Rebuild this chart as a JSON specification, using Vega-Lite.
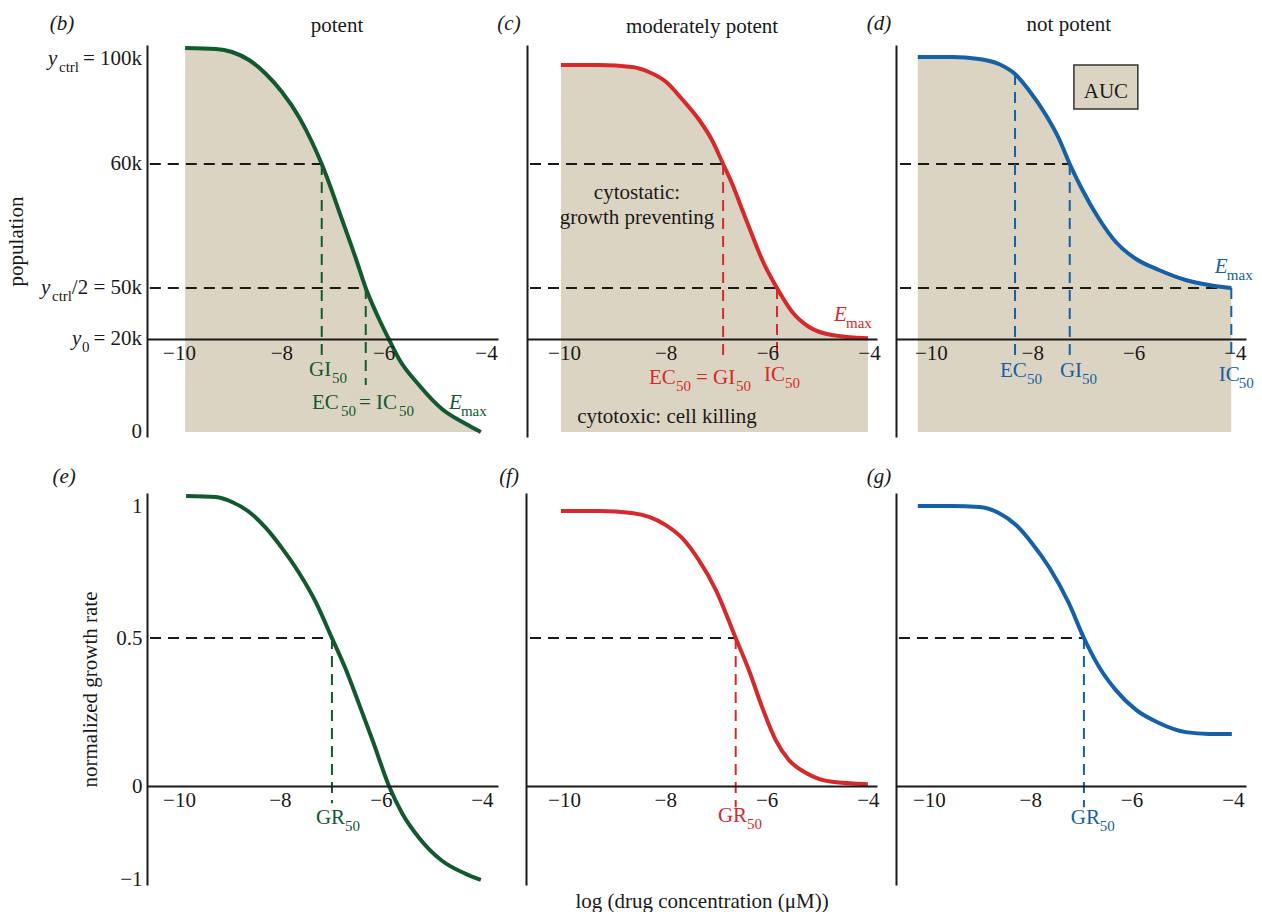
{
 "$schema": "https://vega.github.io/schema/vega-lite/v6.json",
 "background": "white",
 "padding": {"left": 5, "top": 12, "right": 5, "bottom": 5},
 "config": {
  "view": {"stroke": null},
  "font": "Liberation Serif",
  "text": {"font": "Liberation Serif", "fontSize": 21, "baseline": "middle"},
  "axis": {"domainColor": "#1a1a1a", "domainWidth": 2, "ticks": false, "tickSize": 0, "grid": false, "labelFont": "Liberation Serif", "labelFontSize": 21, "labelColor": "#1a1a1a", "labelPadding": 3, "titleFont": "Liberation Serif", "titleFontSize": 21, "titleFontWeight": "normal", "titleColor": "#1a1a1a"}
 },
 "datasets": {
  "curves": [
   {"panel":"b","series":"potent","logc":-9.88,"value":104190},
   {"panel":"b","series":"potent","logc":-9.277,"value":103810},
   {"panel":"b","series":"potent","logc":-8.964,"value":102667},
   {"panel":"b","series":"potent","logc":-8.632,"value":99619},
   {"panel":"b","series":"potent","logc":-8.30,"value":94286},
   {"panel":"b","series":"potent","logc":-7.987,"value":87429},
   {"panel":"b","series":"potent","logc":-7.655,"value":77905},
   {"panel":"b","series":"potent","logc":-7.401,"value":68381},
   {"panel":"b","series":"potent","logc":-7.21,"value":60000},
   {"panel":"b","series":"potent","logc":-6.81,"value":55484},
   {"panel":"b","series":"potent","logc":-6.54,"value":52339},
   {"panel":"b","series":"potent","logc":-6.35,"value":50000},
   {"panel":"b","series":"potent","logc":-6.09,"value":31765},
   {"panel":"b","series":"potent","logc":-5.90,"value":20000},
   {"panel":"b","series":"potent","logc":-5.70,"value":15699},
   {"panel":"b","series":"potent","logc":-5.31,"value":10108},
   {"panel":"b","series":"potent","logc":-4.86,"value":4946},
   {"panel":"b","series":"potent","logc":-4.39,"value":1720},
   {"panel":"b","series":"potent","logc":-4.10,"value":0},
   {"panel":"c","series":"moderately potent","logc":-10.06,"value":97714},
   {"panel":"c","series":"moderately potent","logc":-9.31,"value":97714},
   {"panel":"c","series":"moderately potent","logc":-8.66,"value":96952},
   {"panel":"c","series":"moderately potent","logc":-8.33,"value":95048},
   {"panel":"c","series":"moderately potent","logc":-7.99,"value":91238},
   {"panel":"c","series":"moderately potent","logc":-7.68,"value":84762},
   {"panel":"c","series":"moderately potent","logc":-7.34,"value":76762},
   {"panel":"c","series":"moderately potent","logc":-7.09,"value":69143},
   {"panel":"c","series":"moderately potent","logc":-6.87,"value":60000},
   {"panel":"c","series":"moderately potent","logc":-6.69,"value":58387},
   {"panel":"c","series":"moderately potent","logc":-6.50,"value":56371},
   {"panel":"c","series":"moderately potent","logc":-6.30,"value":54274},
   {"panel":"c","series":"moderately potent","logc":-6.10,"value":52258},
   {"panel":"c","series":"moderately potent","logc":-5.81,"value":50000},
   {"panel":"c","series":"moderately potent","logc":-5.51,"value":35882},
   {"panel":"c","series":"moderately potent","logc":-5.18,"value":27059},
   {"panel":"c","series":"moderately potent","logc":-4.73,"value":22353},
   {"panel":"c","series":"moderately potent","logc":-4.02,"value":20400},
   {"panel":"d","series":"not potent","logc":-10.26,"value":100762},
   {"panel":"d","series":"not potent","logc":-9.59,"value":100762},
   {"panel":"d","series":"not potent","logc":-9.05,"value":100000},
   {"panel":"d","series":"not potent","logc":-8.66,"value":98095},
   {"panel":"d","series":"not potent","logc":-8.34,"value":94286},
   {"panel":"d","series":"not potent","logc":-8.07,"value":88190},
   {"panel":"d","series":"not potent","logc":-7.73,"value":78667},
   {"panel":"d","series":"not potent","logc":-7.47,"value":69524},
   {"panel":"d","series":"not potent","logc":-7.26,"value":60000},
   {"panel":"d","series":"not potent","logc":-7.02,"value":57984},
   {"panel":"d","series":"not potent","logc":-6.68,"value":55565},
   {"panel":"d","series":"not potent","logc":-6.35,"value":53710},
   {"panel":"d","series":"not potent","logc":-5.95,"value":52339},
   {"panel":"d","series":"not potent","logc":-5.50,"value":51452},
   {"panel":"d","series":"not potent","logc":-4.97,"value":50645},
   {"panel":"d","series":"not potent","logc":-4.51,"value":50242},
   {"panel":"d","series":"not potent","logc":-4.07,"value":50000},
   {"panel":"e","series":"potent","logc":-9.86,"value":1.042},
   {"panel":"e","series":"potent","logc":-9.27,"value":1.038},
   {"panel":"e","series":"potent","logc":-8.95,"value":1.019},
   {"panel":"e","series":"potent","logc":-8.61,"value":0.981},
   {"panel":"e","series":"potent","logc":-8.28,"value":0.920},
   {"panel":"e","series":"potent","logc":-7.96,"value":0.843},
   {"panel":"e","series":"potent","logc":-7.62,"value":0.748},
   {"panel":"e","series":"potent","logc":-7.29,"value":0.637},
   {"panel":"e","series":"potent","logc":-6.97,"value":0.5},
   {"panel":"e","series":"potent","logc":-6.69,"value":0.392},
   {"panel":"e","series":"potent","logc":-6.44,"value":0.280},
   {"panel":"e","series":"potent","logc":-6.16,"value":0.152},
   {"panel":"e","series":"potent","logc":-5.84,"value":0},
   {"panel":"e","series":"potent","logc":-5.58,"value":-0.290},
   {"panel":"e","series":"potent","logc":-5.25,"value":-0.548},
   {"panel":"e","series":"potent","logc":-4.79,"value":-0.796},
   {"panel":"e","series":"potent","logc":-4.32,"value":-0.935},
   {"panel":"e","series":"potent","logc":-4.02,"value":-1.0},
   {"panel":"f","series":"moderately potent","logc":-10.06,"value":0.985},
   {"panel":"f","series":"moderately potent","logc":-9.31,"value":0.985},
   {"panel":"f","series":"moderately potent","logc":-8.66,"value":0.977},
   {"panel":"f","series":"moderately potent","logc":-8.32,"value":0.962},
   {"panel":"f","series":"moderately potent","logc":-7.99,"value":0.931},
   {"panel":"f","series":"moderately potent","logc":-7.67,"value":0.882},
   {"panel":"f","series":"moderately potent","logc":-7.34,"value":0.798},
   {"panel":"f","series":"moderately potent","logc":-7.00,"value":0.683},
   {"panel":"f","series":"moderately potent","logc":-6.61,"value":0.5},
   {"panel":"f","series":"moderately potent","logc":-6.35,"value":0.392},
   {"panel":"f","series":"moderately potent","logc":-6.09,"value":0.267},
   {"panel":"f","series":"moderately potent","logc":-5.82,"value":0.155},
   {"panel":"f","series":"moderately potent","logc":-5.56,"value":0.088},
   {"panel":"f","series":"moderately potent","logc":-5.22,"value":0.044},
   {"panel":"f","series":"moderately potent","logc":-4.71,"value":0.014},
   {"panel":"f","series":"moderately potent","logc":-4.00,"value":0.006},
   {"panel":"g","series":"not potent","logc":-10.22,"value":1.004},
   {"panel":"g","series":"not potent","logc":-9.55,"value":1.004},
   {"panel":"g","series":"not potent","logc":-9.01,"value":1.0},
   {"panel":"g","series":"not potent","logc":-8.62,"value":0.977},
   {"panel":"g","series":"not potent","logc":-8.28,"value":0.931},
   {"panel":"g","series":"not potent","logc":-7.97,"value":0.863},
   {"panel":"g","series":"not potent","logc":-7.63,"value":0.771},
   {"panel":"g","series":"not potent","logc":-7.24,"value":0.634},
   {"panel":"g","series":"not potent","logc":-6.94,"value":0.5},
   {"panel":"g","series":"not potent","logc":-6.64,"value":0.402},
   {"panel":"g","series":"not potent","logc":-6.31,"value":0.324},
   {"panel":"g","series":"not potent","logc":-5.91,"value":0.257},
   {"panel":"g","series":"not potent","logc":-5.46,"value":0.213},
   {"panel":"g","series":"not potent","logc":-4.93,"value":0.182},
   {"panel":"g","series":"not potent","logc":-4.47,"value":0.176},
   {"panel":"g","series":"not potent","logc":-4.02,"value":0.176}
  ],
  "guides": [
   {"panel":"b","series":"none","logc":-10.57,"logc2":-7.21,"value":60000,"value2":60000},
   {"panel":"b","series":"none","logc":-10.57,"logc2":-6.35,"value":50000,"value2":50000},
   {"panel":"b","series":"potent","logc":-7.21,"logc2":-7.21,"value":60000,"value2":16559},
   {"panel":"b","series":"potent","logc":-6.35,"logc2":-6.35,"value":50000,"value2":10108},
   {"panel":"c","series":"none","logc":-10.669,"logc2":-6.87,"value":60000,"value2":60000},
   {"panel":"c","series":"none","logc":-10.669,"logc2":-5.81,"value":50000,"value2":50000},
   {"panel":"c","series":"moderately potent","logc":-6.87,"logc2":-6.87,"value":60000,"value2":16559},
   {"panel":"c","series":"moderately potent","logc":-5.81,"logc2":-5.81,"value":50000,"value2":16559},
   {"panel":"d","series":"none","logc":-10.61,"logc2":-7.26,"value":60000,"value2":60000},
   {"panel":"d","series":"none","logc":-10.61,"logc2":-4.07,"value":50000,"value2":50000},
   {"panel":"d","series":"not potent","logc":-8.34,"logc2":-8.34,"value":94286,"value2":16129},
   {"panel":"d","series":"not potent","logc":-7.26,"logc2":-7.26,"value":60000,"value2":16129},
   {"panel":"d","series":"not potent","logc":-4.07,"logc2":-4.07,"value":50000,"value2":16129},
   {"panel":"e","series":"none","logc":-10.574,"logc2":-6.97,"value":0.5,"value2":0.5},
   {"panel":"e","series":"potent","logc":-6.97,"logc2":-6.97,"value":0.5,"value2":-0.183},
   {"panel":"f","series":"none","logc":-10.671,"logc2":-6.61,"value":0.5,"value2":0.5},
   {"panel":"f","series":"moderately potent","logc":-6.61,"logc2":-6.61,"value":0.5,"value2":-0.226},
   {"panel":"g","series":"none","logc":-10.592,"logc2":-6.94,"value":0.5,"value2":0.5},
   {"panel":"g","series":"not potent","logc":-6.94,"logc2":-6.94,"value":0.5,"value2":-0.226}
  ],
  "boxes": [
   {"panel":"d","logc":-7.178,"logc2":-5.915,"value":97714,"value2":80952}
  ],
  "labels": [
   {"panel":"b","series":"potent","part":"main","logc":-7.459,"value":13333,"text":"GI"},
   {"panel":"b","series":"potent","part":"sub","logc":-7.010,"value":13333,"text":"50"},
   {"panel":"b","series":"potent","part":"main","logc":-7.401,"value":6237,"text":"EC"},
   {"panel":"b","series":"potent","part":"sub","logc":-6.834,"value":6237,"text":"50"},
   {"panel":"b","series":"potent","part":"main","logc":-6.482,"value":6237,"text":"= IC"},
   {"panel":"b","series":"potent","part":"sub","logc":-5.701,"value":6237,"text":"50"},
   {"panel":"b","series":"potent","part":"symbol","logc":-4.723,"value":6237,"text":"E"},
   {"panel":"b","series":"potent","part":"sub","logc":-4.489,"value":6237,"text":"max"},
   {"panel":"b","series":"none","part":"tick","logc":-10.723,"value":100000,"text":"= 100k"},
   {"panel":"b","series":"none","part":"tick","logc":-10.723,"value":60000,"text":"60k"},
   {"panel":"b","series":"none","part":"tick","logc":-10.723,"value":50000,"text":"/2 = 50k"},
   {"panel":"b","series":"none","part":"tick","logc":-10.723,"value":20000,"text":"= 20k"},
   {"panel":"b","series":"none","part":"tick","logc":-10.723,"value":0,"text":"0"},
   {"panel":"b","series":"none","part":"symbol","logc":-12.560,"value":100000,"text":"y"},
   {"panel":"b","series":"none","part":"sub","logc":-12.345,"value":100000,"text":"ctrl"},
   {"panel":"b","series":"none","part":"symbol","logc":-12.697,"value":50000,"text":"y"},
   {"panel":"b","series":"none","part":"sub","logc":-12.482,"value":50000,"text":"ctrl"},
   {"panel":"b","series":"none","part":"symbol","logc":-12.091,"value":20000,"text":"y"},
   {"panel":"b","series":"none","part":"sub","logc":-11.896,"value":20000,"text":"0"},
   {"panel":"b","series":"none","part":"note","logc":-6.912,"value":112571,"text":"potent"},
   {"panel":"b","series":"none","part":"letter","logc":-12.287,"value":113333,"text":"(b)"},
   {"panel":"c","series":"none","part":"note","logc":-7.285,"value":112190,"text":"moderately potent"},
   {"panel":"c","series":"none","part":"letter","logc":-11.082,"value":113333,"text":"(c)"},
   {"panel":"c","series":"none","part":"note","logc":-8.564,"value":57661,"text":"cytostatic:"},
   {"panel":"c","series":"none","part":"note","logc":-8.564,"value":55645,"text":"growth preventing"},
   {"panel":"c","series":"moderately potent","part":"main","logc":-8.328,"value":11613,"text":"EC"},
   {"panel":"c","series":"moderately potent","part":"sub","logc":-7.797,"value":11613,"text":"50"},
   {"panel":"c","series":"moderately potent","part":"main","logc":-7.403,"value":11613,"text":"= GI"},
   {"panel":"c","series":"moderately potent","part":"sub","logc":-6.616,"value":11613,"text":"50"},
   {"panel":"c","series":"moderately potent","part":"main","logc":-6.065,"value":12258,"text":"IC"},
   {"panel":"c","series":"moderately potent","part":"sub","logc":-5.652,"value":12258,"text":"50"},
   {"panel":"c","series":"moderately potent","part":"symbol","logc":-4.688,"value":34118,"text":"E"},
   {"panel":"c","series":"moderately potent","part":"sub","logc":-4.452,"value":34118,"text":"max"},
   {"panel":"c","series":"none","part":"note","logc":-7.974,"value":3226,"text":"cytotoxic: cell killing"},
   {"panel":"d","series":"none","part":"note","logc":-7.277,"value":112952,"text":"not potent"},
   {"panel":"d","series":"none","part":"letter","logc":-11.026,"value":113333,"text":"(d)"},
   {"panel":"d","series":"not potent","part":"main","logc":-8.638,"value":13118,"text":"EC"},
   {"panel":"d","series":"not potent","part":"sub","logc":-8.105,"value":13118,"text":"50"},
   {"panel":"d","series":"not potent","part":"main","logc":-7.454,"value":13118,"text":"GI"},
   {"panel":"d","series":"not potent","part":"sub","logc":-7.020,"value":13118,"text":"50"},
   {"panel":"d","series":"not potent","part":"main","logc":-4.316,"value":12258,"text":"IC"},
   {"panel":"d","series":"not potent","part":"sub","logc":-3.921,"value":12258,"text":"50"},
   {"panel":"d","series":"not potent","part":"symbol","logc":-4.395,"value":51694,"text":"E"},
   {"panel":"d","series":"not potent","part":"sub","logc":-4.158,"value":51694,"text":"max"},
   {"panel":"d","series":"none","part":"note","logc":-6.546,"value":87429,"text":"AUC"},
   {"panel":"e","series":"none","part":"letter","logc":-12.277,"value":1.1145,"text":"(e)"},
   {"panel":"e","series":"potent","part":"main","logc":-7.287,"value":-0.344,"text":"GR"},
   {"panel":"e","series":"potent","part":"sub","logc":-6.713,"value":-0.344,"text":"50"},
   {"panel":"f","series":"none","part":"letter","logc":-11.085,"value":1.1145,"text":"(f)"},
   {"panel":"f","series":"moderately potent","part":"main","logc":-6.961,"value":-0.323,"text":"GR"},
   {"panel":"f","series":"moderately potent","part":"sub","logc":-6.388,"value":-0.323,"text":"50"},
   {"panel":"g","series":"none","part":"letter","logc":-10.987,"value":1.1145,"text":"(g)"},
   {"panel":"g","series":"not potent","part":"main","logc":-7.198,"value":-0.344,"text":"GR"},
   {"panel":"g","series":"not potent","part":"sub","logc":-6.625,"value":-0.344,"text":"50"}
  ]
 },
 "vconcat": [
  {
   "bounds": "flush",
   "spacing": 29,
   "hconcat": [
    {
     "width": 351, "height": 392,
     "encoding": {
      "x": {"field": "logc", "type": "quantitative", "scale": {"domain": [-10.625, -3.765], "nice": false, "zero": false}, "axis": {"values": [-10, -8, -6, -4], "format": "d", "offset": -98, "title": null, "zindex": 1}},
      "y": {"field": "value", "type": "quantitative", "scale": {"domain": [-1075, 20000, 50000, 60000, 105333], "range": [392, 294, 243, 119, 0], "nice": false, "zero": false}, "axis": {"labels": false, "title": "population", "titlePadding": 121, "zindex": 1}}
     },
     "layer": [
      {"data": {"name": "curves"}, "transform": [{"filter": "datum.panel === 'b'"}], "mark": {"type": "area", "color": "#dcd4c2", "interpolate": "monotone"}, "encoding": {"y2": {"datum": 0}}},
      {"data": {"name": "guides"}, "transform": [{"filter": "datum.panel === 'b'"}], "mark": {"type": "rule", "strokeWidth": 2, "strokeDash": [11, 7]}, "encoding": {"x2": {"field": "logc2"}, "y2": {"field": "value2"}, "color": {"field": "series", "type": "nominal", "scale": {"domain": ["potent", "moderately potent", "not potent", "none"], "range": ["#13592e", "#d52a2b", "#1560a6", "#1a1a1a"]}, "legend": null}}},
      {"data": {"name": "curves"}, "transform": [{"filter": "datum.panel === 'b'"}], "mark": {"type": "line", "strokeWidth": 4, "interpolate": "monotone"}, "encoding": {"color": {"field": "series", "type": "nominal", "scale": {"domain": ["potent", "moderately potent", "not potent", "none"], "range": ["#13592e", "#d52a2b", "#1560a6", "#1a1a1a"]}, "legend": null}}},
      {"data": {"name": "labels"}, "transform": [{"filter": "datum.panel === 'b' && datum.part === 'main'"}], "mark": {"type": "text", "align": "left"}, "encoding": {"text": {"field": "text"}, "color": {"field": "series", "type": "nominal", "scale": {"domain": ["potent", "moderately potent", "not potent", "none"], "range": ["#13592e", "#d52a2b", "#1560a6", "#1a1a1a"]}, "legend": null}}},
      {"data": {"name": "labels"}, "transform": [{"filter": "datum.panel === 'b' && datum.part === 'sub'"}], "mark": {"type": "text", "align": "left", "fontSize": 15, "dy": 8}, "encoding": {"text": {"field": "text"}, "color": {"field": "series", "type": "nominal", "scale": {"domain": ["potent", "moderately potent", "not potent", "none"], "range": ["#13592e", "#d52a2b", "#1560a6", "#1a1a1a"]}, "legend": null}}},
      {"data": {"name": "labels"}, "transform": [{"filter": "datum.panel === 'b' && datum.part === 'symbol'"}], "mark": {"type": "text", "align": "left", "fontStyle": "italic"}, "encoding": {"text": {"field": "text"}, "color": {"field": "series", "type": "nominal", "scale": {"domain": ["potent", "moderately potent", "not potent", "none"], "range": ["#13592e", "#d52a2b", "#1560a6", "#1a1a1a"]}, "legend": null}}},
      {"data": {"name": "labels"}, "transform": [{"filter": "datum.panel === 'b' && datum.part === 'note'"}], "mark": {"type": "text", "align": "center", "color": "#1a1a1a"}, "encoding": {"text": {"field": "text"}}},
      {"data": {"name": "labels"}, "transform": [{"filter": "datum.panel === 'b' && datum.part === 'letter'"}], "mark": {"type": "text", "align": "center", "fontStyle": "italic", "color": "#1a1a1a"}, "encoding": {"text": {"field": "text"}}},
      {"data": {"name": "labels"}, "transform": [{"filter": "datum.panel === 'b' && datum.part === 'tick'"}], "mark": {"type": "text", "align": "right", "color": "#1a1a1a"}, "encoding": {"text": {"field": "text"}}}
     ]
    },
    {
     "bounds": "flush",
     "spacing": 19,
     "hconcat": [
      {
       "width": 350, "height": 392,
       "encoding": {
        "x": {"field": "logc", "type": "quantitative", "scale": {"domain": [-10.728, -3.843], "nice": false, "zero": false}, "axis": {"values": [-10, -8, -6, -4], "format": "d", "offset": -98, "title": null, "zindex": 1}},
        "y": {"field": "value", "type": "quantitative", "scale": {"domain": [-1075, 20000, 50000, 60000, 105333], "range": [392, 294, 243, 119, 0], "nice": false, "zero": false}, "axis": {"labels": false, "title": null, "zindex": 1}}
       },
       "layer": [
        {"data": {"name": "curves"}, "transform": [{"filter": "datum.panel === 'c'"}], "mark": {"type": "area", "color": "#dcd4c2", "interpolate": "monotone"}, "encoding": {"y2": {"datum": 0}}},
        {"data": {"name": "guides"}, "transform": [{"filter": "datum.panel === 'c'"}], "mark": {"type": "rule", "strokeWidth": 2, "strokeDash": [11, 7]}, "encoding": {"x2": {"field": "logc2"}, "y2": {"field": "value2"}, "color": {"field": "series", "type": "nominal", "scale": {"domain": ["potent", "moderately potent", "not potent", "none"], "range": ["#13592e", "#d52a2b", "#1560a6", "#1a1a1a"]}, "legend": null}}},
        {"data": {"name": "curves"}, "transform": [{"filter": "datum.panel === 'c'"}], "mark": {"type": "line", "strokeWidth": 4, "interpolate": "monotone"}, "encoding": {"color": {"field": "series", "type": "nominal", "scale": {"domain": ["potent", "moderately potent", "not potent", "none"], "range": ["#13592e", "#d52a2b", "#1560a6", "#1a1a1a"]}, "legend": null}}},
        {"data": {"name": "labels"}, "transform": [{"filter": "datum.panel === 'c' && datum.part === 'main'"}], "mark": {"type": "text", "align": "left"}, "encoding": {"text": {"field": "text"}, "color": {"field": "series", "type": "nominal", "scale": {"domain": ["potent", "moderately potent", "not potent", "none"], "range": ["#13592e", "#d52a2b", "#1560a6", "#1a1a1a"]}, "legend": null}}},
        {"data": {"name": "labels"}, "transform": [{"filter": "datum.panel === 'c' && datum.part === 'sub'"}], "mark": {"type": "text", "align": "left", "fontSize": 15, "dy": 8}, "encoding": {"text": {"field": "text"}, "color": {"field": "series", "type": "nominal", "scale": {"domain": ["potent", "moderately potent", "not potent", "none"], "range": ["#13592e", "#d52a2b", "#1560a6", "#1a1a1a"]}, "legend": null}}},
        {"data": {"name": "labels"}, "transform": [{"filter": "datum.panel === 'c' && datum.part === 'symbol'"}], "mark": {"type": "text", "align": "left", "fontStyle": "italic"}, "encoding": {"text": {"field": "text"}, "color": {"field": "series", "type": "nominal", "scale": {"domain": ["potent", "moderately potent", "not potent", "none"], "range": ["#13592e", "#d52a2b", "#1560a6", "#1a1a1a"]}, "legend": null}}},
        {"data": {"name": "labels"}, "transform": [{"filter": "datum.panel === 'c' && datum.part === 'note'"}], "mark": {"type": "text", "align": "center", "color": "#1a1a1a"}, "encoding": {"text": {"field": "text"}}},
        {"data": {"name": "labels"}, "transform": [{"filter": "datum.panel === 'c' && datum.part === 'letter'"}], "mark": {"type": "text", "align": "center", "fontStyle": "italic", "color": "#1a1a1a"}, "encoding": {"text": {"field": "text"}}}
       ]
      },
      {
       "width": 350, "height": 392,
       "encoding": {
        "x": {"field": "logc", "type": "quantitative", "scale": {"domain": [-10.69, -3.78], "nice": false, "zero": false}, "axis": {"values": [-10, -8, -6, -4], "format": "d", "offset": -98, "title": null, "zindex": 1}},
        "y": {"field": "value", "type": "quantitative", "scale": {"domain": [-1075, 20000, 50000, 60000, 105333], "range": [392, 294, 243, 119, 0], "nice": false, "zero": false}, "axis": {"labels": false, "title": null, "zindex": 1}}
       },
       "layer": [
        {"data": {"name": "curves"}, "transform": [{"filter": "datum.panel === 'd'"}], "mark": {"type": "area", "color": "#dcd4c2", "interpolate": "monotone"}, "encoding": {"y2": {"datum": 0}}},
        {"data": {"name": "guides"}, "transform": [{"filter": "datum.panel === 'd'"}], "mark": {"type": "rule", "strokeWidth": 2, "strokeDash": [11, 7]}, "encoding": {"x2": {"field": "logc2"}, "y2": {"field": "value2"}, "color": {"field": "series", "type": "nominal", "scale": {"domain": ["potent", "moderately potent", "not potent", "none"], "range": ["#13592e", "#d52a2b", "#1560a6", "#1a1a1a"]}, "legend": null}}},
        {"data": {"name": "curves"}, "transform": [{"filter": "datum.panel === 'd'"}], "mark": {"type": "line", "strokeWidth": 4, "interpolate": "monotone"}, "encoding": {"color": {"field": "series", "type": "nominal", "scale": {"domain": ["potent", "moderately potent", "not potent", "none"], "range": ["#13592e", "#d52a2b", "#1560a6", "#1a1a1a"]}, "legend": null}}},
        {"data": {"name": "boxes"}, "transform": [{"filter": "datum.panel === 'd'"}], "mark": {"type": "rect", "fill": "#dcd4c2", "stroke": "#333333", "strokeWidth": 1.5}, "encoding": {"x2": {"field": "logc2"}, "y2": {"field": "value2"}}},
        {"data": {"name": "labels"}, "transform": [{"filter": "datum.panel === 'd' && datum.part === 'main'"}], "mark": {"type": "text", "align": "left"}, "encoding": {"text": {"field": "text"}, "color": {"field": "series", "type": "nominal", "scale": {"domain": ["potent", "moderately potent", "not potent", "none"], "range": ["#13592e", "#d52a2b", "#1560a6", "#1a1a1a"]}, "legend": null}}},
        {"data": {"name": "labels"}, "transform": [{"filter": "datum.panel === 'd' && datum.part === 'sub'"}], "mark": {"type": "text", "align": "left", "fontSize": 15, "dy": 8}, "encoding": {"text": {"field": "text"}, "color": {"field": "series", "type": "nominal", "scale": {"domain": ["potent", "moderately potent", "not potent", "none"], "range": ["#13592e", "#d52a2b", "#1560a6", "#1a1a1a"]}, "legend": null}}},
        {"data": {"name": "labels"}, "transform": [{"filter": "datum.panel === 'd' && datum.part === 'symbol'"}], "mark": {"type": "text", "align": "left", "fontStyle": "italic"}, "encoding": {"text": {"field": "text"}, "color": {"field": "series", "type": "nominal", "scale": {"domain": ["potent", "moderately potent", "not potent", "none"], "range": ["#13592e", "#d52a2b", "#1560a6", "#1a1a1a"]}, "legend": null}}},
        {"data": {"name": "labels"}, "transform": [{"filter": "datum.panel === 'd' && datum.part === 'note'"}], "mark": {"type": "text", "align": "center", "color": "#1a1a1a"}, "encoding": {"text": {"field": "text"}}},
        {"data": {"name": "labels"}, "transform": [{"filter": "datum.panel === 'd' && datum.part === 'letter'"}], "mark": {"type": "text", "align": "center", "fontStyle": "italic", "color": "#1a1a1a"}, "encoding": {"text": {"field": "text"}}}
       ]
      }
     ]
    }
   ]
  },
  {
   "bounds": "flush",
   "spacing": 28,
   "hconcat": [
    {
     "width": 351, "height": 392,
     "encoding": {
      "x": {"field": "logc", "type": "quantitative", "scale": {"domain": [-10.634, -3.68], "nice": false, "zero": false}, "axis": {"values": [-10, -8, -6, -4], "format": "d", "offset": -99, "title": null, "zindex": 1}},
      "y": {"field": "value", "type": "quantitative", "scale": {"domain": [-1.054, 0, 0.5, 1.0534], "range": [392, 293, 145, 0], "nice": false, "zero": false}, "axis": {"values": [-1, 0, 0.5, 1], "format": "~g", "labelPadding": 5, "title": "normalized growth rate", "titlePadding": 15, "zindex": 1}}
     },
     "layer": [
      {"data": {"name": "guides"}, "transform": [{"filter": "datum.panel === 'e'"}], "mark": {"type": "rule", "strokeWidth": 2, "strokeDash": [11, 7]}, "encoding": {"x2": {"field": "logc2"}, "y2": {"field": "value2"}, "color": {"field": "series", "type": "nominal", "scale": {"domain": ["potent", "moderately potent", "not potent", "none"], "range": ["#13592e", "#d52a2b", "#1560a6", "#1a1a1a"]}, "legend": null}}},
      {"data": {"name": "curves"}, "transform": [{"filter": "datum.panel === 'e'"}], "mark": {"type": "line", "strokeWidth": 4, "interpolate": "monotone"}, "encoding": {"color": {"field": "series", "type": "nominal", "scale": {"domain": ["potent", "moderately potent", "not potent", "none"], "range": ["#13592e", "#d52a2b", "#1560a6", "#1a1a1a"]}, "legend": null}}},
      {"data": {"name": "labels"}, "transform": [{"filter": "datum.panel === 'e' && datum.part === 'main'"}], "mark": {"type": "text", "align": "left"}, "encoding": {"text": {"field": "text"}, "color": {"field": "series", "type": "nominal", "scale": {"domain": ["potent", "moderately potent", "not potent", "none"], "range": ["#13592e", "#d52a2b", "#1560a6", "#1a1a1a"]}, "legend": null}}},
      {"data": {"name": "labels"}, "transform": [{"filter": "datum.panel === 'e' && datum.part === 'sub'"}], "mark": {"type": "text", "align": "left", "fontSize": 15, "dy": 8}, "encoding": {"text": {"field": "text"}, "color": {"field": "series", "type": "nominal", "scale": {"domain": ["potent", "moderately potent", "not potent", "none"], "range": ["#13592e", "#d52a2b", "#1560a6", "#1a1a1a"]}, "legend": null}}},
      {"data": {"name": "labels"}, "transform": [{"filter": "datum.panel === 'e' && datum.part === 'letter'"}], "mark": {"type": "text", "align": "center", "fontStyle": "italic", "color": "#1a1a1a"}, "encoding": {"text": {"field": "text"}}}
     ]
    },
    {
     "bounds": "flush",
     "spacing": 19,
     "hconcat": [
      {
       "width": 351, "height": 392,
       "encoding": {
        "x": {"field": "logc", "type": "quantitative", "scale": {"domain": [-10.75, -3.82], "nice": false, "zero": false}, "axis": {"values": [-10, -8, -6, -4], "format": "d", "offset": -99, "title": "log (drug concentration (μM))", "titlePadding": 80, "zindex": 1}},
        "y": {"field": "value", "type": "quantitative", "scale": {"domain": [-1.054, 0, 0.5, 1.0534], "range": [392, 293, 145, 0], "nice": false, "zero": false}, "axis": {"labels": false, "title": null, "zindex": 1}}
       },
       "layer": [
        {"data": {"name": "guides"}, "transform": [{"filter": "datum.panel === 'f'"}], "mark": {"type": "rule", "strokeWidth": 2, "strokeDash": [11, 7]}, "encoding": {"x2": {"field": "logc2"}, "y2": {"field": "value2"}, "color": {"field": "series", "type": "nominal", "scale": {"domain": ["potent", "moderately potent", "not potent", "none"], "range": ["#13592e", "#d52a2b", "#1560a6", "#1a1a1a"]}, "legend": null}}},
        {"data": {"name": "curves"}, "transform": [{"filter": "datum.panel === 'f'"}], "mark": {"type": "line", "strokeWidth": 4, "interpolate": "monotone"}, "encoding": {"color": {"field": "series", "type": "nominal", "scale": {"domain": ["potent", "moderately potent", "not potent", "none"], "range": ["#13592e", "#d52a2b", "#1560a6", "#1a1a1a"]}, "legend": null}}},
        {"data": {"name": "labels"}, "transform": [{"filter": "datum.panel === 'f' && datum.part === 'main'"}], "mark": {"type": "text", "align": "left"}, "encoding": {"text": {"field": "text"}, "color": {"field": "series", "type": "nominal", "scale": {"domain": ["potent", "moderately potent", "not potent", "none"], "range": ["#13592e", "#d52a2b", "#1560a6", "#1a1a1a"]}, "legend": null}}},
        {"data": {"name": "labels"}, "transform": [{"filter": "datum.panel === 'f' && datum.part === 'sub'"}], "mark": {"type": "text", "align": "left", "fontSize": 15, "dy": 8}, "encoding": {"text": {"field": "text"}, "color": {"field": "series", "type": "nominal", "scale": {"domain": ["potent", "moderately potent", "not potent", "none"], "range": ["#13592e", "#d52a2b", "#1560a6", "#1a1a1a"]}, "legend": null}}},
        {"data": {"name": "labels"}, "transform": [{"filter": "datum.panel === 'f' && datum.part === 'letter'"}], "mark": {"type": "text", "align": "center", "fontStyle": "italic", "color": "#1a1a1a"}, "encoding": {"text": {"field": "text"}}}
       ]
      },
      {
       "width": 350, "height": 392,
       "encoding": {
        "x": {"field": "logc", "type": "quantitative", "scale": {"domain": [-10.65, -3.74], "nice": false, "zero": false}, "axis": {"values": [-10, -8, -6, -4], "format": "d", "offset": -99, "title": null, "zindex": 1}},
        "y": {"field": "value", "type": "quantitative", "scale": {"domain": [-1.054, 0, 0.5, 1.0534], "range": [392, 293, 145, 0], "nice": false, "zero": false}, "axis": {"labels": false, "title": null, "zindex": 1}}
       },
       "layer": [
        {"data": {"name": "guides"}, "transform": [{"filter": "datum.panel === 'g'"}], "mark": {"type": "rule", "strokeWidth": 2, "strokeDash": [11, 7]}, "encoding": {"x2": {"field": "logc2"}, "y2": {"field": "value2"}, "color": {"field": "series", "type": "nominal", "scale": {"domain": ["potent", "moderately potent", "not potent", "none"], "range": ["#13592e", "#d52a2b", "#1560a6", "#1a1a1a"]}, "legend": null}}},
        {"data": {"name": "curves"}, "transform": [{"filter": "datum.panel === 'g'"}], "mark": {"type": "line", "strokeWidth": 4, "interpolate": "monotone"}, "encoding": {"color": {"field": "series", "type": "nominal", "scale": {"domain": ["potent", "moderately potent", "not potent", "none"], "range": ["#13592e", "#d52a2b", "#1560a6", "#1a1a1a"]}, "legend": null}}},
        {"data": {"name": "labels"}, "transform": [{"filter": "datum.panel === 'g' && datum.part === 'main'"}], "mark": {"type": "text", "align": "left"}, "encoding": {"text": {"field": "text"}, "color": {"field": "series", "type": "nominal", "scale": {"domain": ["potent", "moderately potent", "not potent", "none"], "range": ["#13592e", "#d52a2b", "#1560a6", "#1a1a1a"]}, "legend": null}}},
        {"data": {"name": "labels"}, "transform": [{"filter": "datum.panel === 'g' && datum.part === 'sub'"}], "mark": {"type": "text", "align": "left", "fontSize": 15, "dy": 8}, "encoding": {"text": {"field": "text"}, "color": {"field": "series", "type": "nominal", "scale": {"domain": ["potent", "moderately potent", "not potent", "none"], "range": ["#13592e", "#d52a2b", "#1560a6", "#1a1a1a"]}, "legend": null}}},
        {"data": {"name": "labels"}, "transform": [{"filter": "datum.panel === 'g' && datum.part === 'letter'"}], "mark": {"type": "text", "align": "center", "fontStyle": "italic", "color": "#1a1a1a"}, "encoding": {"text": {"field": "text"}}}
       ]
      }
     ]
    }
   ]
  }
 ],
 "spacing": 22,
 "bounds": "full"
}
